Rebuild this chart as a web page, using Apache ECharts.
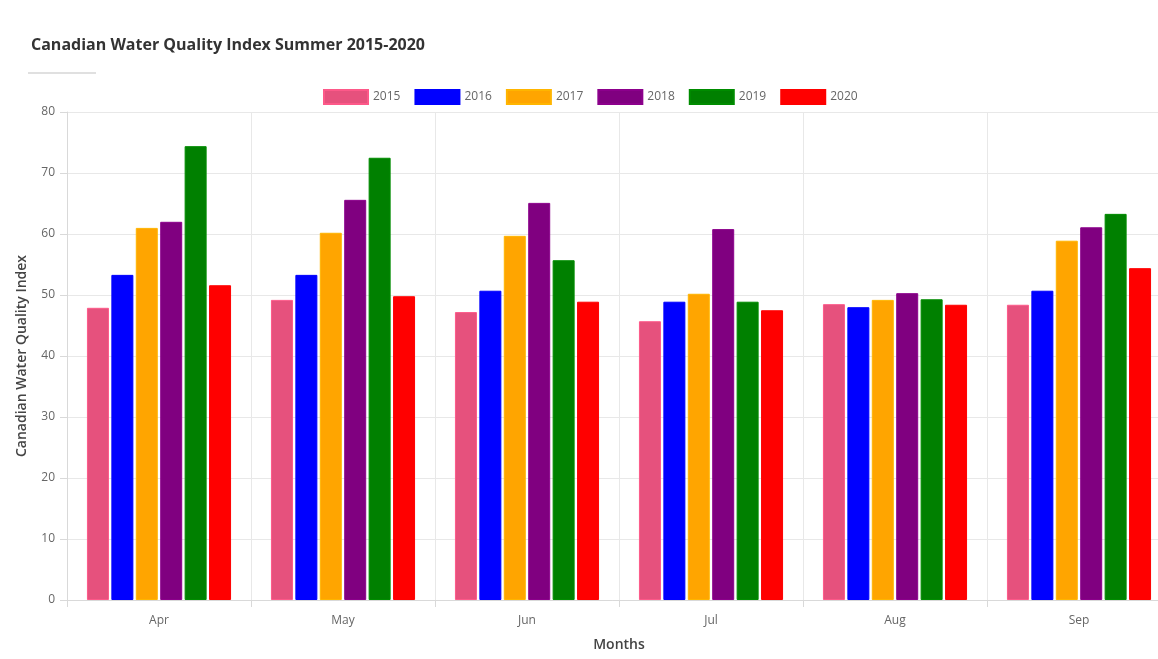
<!DOCTYPE html>
<html>
<head>
<meta charset="utf-8">
<script src="https://cdn.jsdelivr.net/npm/echarts@6/dist/echarts.min.js"></script>
<style>
  html, body { margin: 0; padding: 0; background: #fff; }
  #chart { width: 1158px; height: 659px; }
</style>
</head>
<body>
<div id="chart"></div>
<script>
// months on the x axis
var months = ['Apr', 'May', 'Jun', 'Jul', 'Aug', 'Sep'];
var years = ['2015', '2016', '2017', '2018', '2019', '2020'];

// index values per year, Apr..Sep
var y2015 = [47.9, 49.2, 47.2, 45.7, 48.5, 48.4];
var y2016 = [53.3, 53.3, 50.7, 48.9, 48.0, 50.7];
var y2017 = [61.0, 60.2, 59.7, 50.2, 49.2, 58.9];
var y2018 = [62.0, 65.6, 65.1, 60.8, 50.3, 61.1];
var y2019 = [74.4, 72.5, 55.7, 48.9, 49.3, 63.3];
var y2020 = [51.6, 49.8, 48.9, 47.5, 48.4, 54.4];

var colors = ['#e6517d', '#0000ff', '#ffa500', '#800080', '#008000', '#ff0000'];
var allValues = [y2015, y2016, y2017, y2018, y2019, y2020];

var font = '"Open Sans", "Noto Sans", sans-serif';

var myChart = echarts.init(document.getElementById('chart'));

var series = years.map(function (y, i) {
    return {
        name: y,
        type: 'bar',
        barWidth: 22,
        barGap: '11%',
        data: allValues[i],
        itemStyle: {
            color: colors[i],
            borderColor: echarts.color.lift(colors[i], -0.1),
            borderWidth: 1
        }
    };
});

var option = {
    animation: false,
    backgroundColor: '#fff',
    textStyle: { fontFamily: font },
    title: {
        text: 'Canadian Water Quality Index Summer 2015-2020',
        left: 26,
        top: 32,
        textStyle: {
            fontFamily: font,
            fontSize: 16,
            fontWeight: 'bold',
            color: '#333'
        }
    },
    graphic: [{
        type: 'line',
        shape: { x1: 28, y1: 73, x2: 96, y2: 73 },
        style: { stroke: '#d6d6d6', lineWidth: 1.5 }
    }],
    legend: {
        data: years,
        left: 318,
        top: 84,
        itemWidth: 44,
        itemHeight: 14,
        itemGap: 14,
        icon: 'rect',
        textStyle: { color: '#666', fontSize: 12, fontFamily: font }
    },
    grid: {
        left: 67,
        top: 112,
        right: -13,
        bottom: 59,
        outerBoundsMode: 'none'
    },
    xAxis: {
        type: 'category',
        data: months,
        name: 'Months',
        nameLocation: 'middle',
        nameGap: 38,
        nameTextStyle: { color: '#444', fontSize: 14, fontWeight: 600, fontFamily: font },
        axisLine: { lineStyle: { color: '#d9d9d9' } },
        axisTick: { show: true, length: 7, lineStyle: { color: '#d9d9d9' } },
        axisLabel: { color: '#666', fontSize: 12, margin: 15 },
        splitLine: { show: true, lineStyle: { color: '#e8e8e8' } }
    },
    yAxis: {
        type: 'value',
        min: 0,
        max: 80,
        interval: 10,
        name: 'Canadian Water Quality Index',
        nameLocation: 'middle',
        nameGap: 38,
        nameTextStyle: { color: '#444', fontSize: 14, fontWeight: 600, fontFamily: font },
        axisLine: { show: true, lineStyle: { color: '#d9d9d9' } },
        axisTick: { show: true, length: 7, lineStyle: { color: '#d9d9d9' } },
        axisLabel: { color: '#666', fontSize: 12, margin: 12 },
        splitLine: { show: true, lineStyle: { color: '#e8e8e8' } }
    },
    series: series
};

myChart.setOption(option);
</script>
</body>
</html>
